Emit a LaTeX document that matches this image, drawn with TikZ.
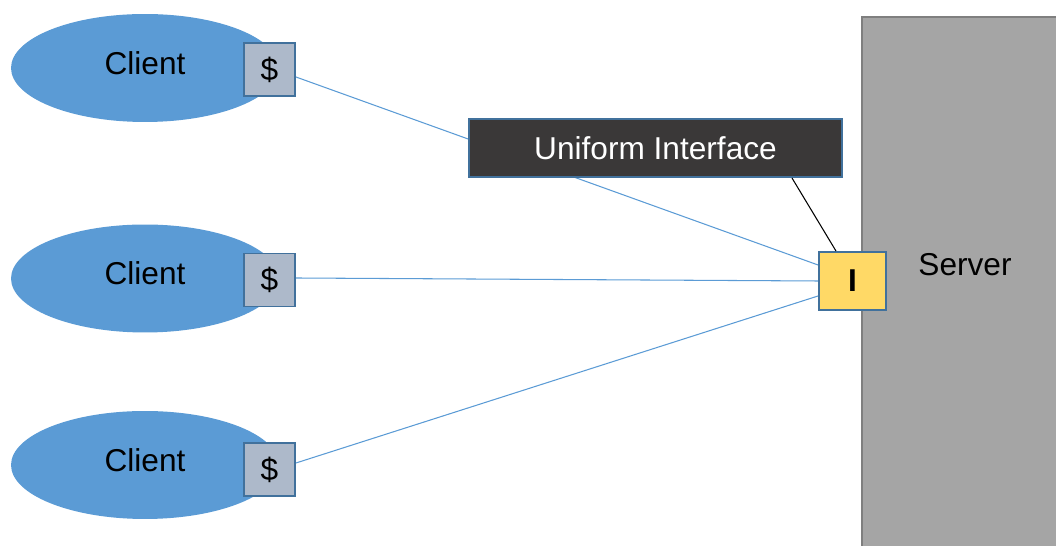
\documentclass[tikz,border=0pt]{standalone}
\usepackage{fontspec}
\setmainfont{Liberation Sans}
\usetikzlibrary{shapes.geometric}
\usetikzlibrary{backgrounds}
\definecolor{clientblue}{HTML}{5B9BD5}
\definecolor{edgeblue}{HTML}{41719C}
\definecolor{cashgray}{HTML}{ADB9CA}
\definecolor{ifcdark}{HTML}{3A3838}
\definecolor{ifcyellow}{HTML}{FFD966}
\definecolor{srvgray}{HTML}{A5A5A5}
\definecolor{srvedge}{HTML}{7F7F7F}

\begin{document}
\begin{tikzpicture}[x=0.02cm, y=-0.02cm,
    every node/.style={font=\fontsize{18}{20}\selectfont},
    client/.style={ellipse, fill=clientblue, minimum width=5.36cm, minimum height=2.16cm, inner sep=0pt},
    cash/.style={draw=edgeblue, line width=1.1pt, fill=cashgray, minimum width=1.02cm, minimum height=1.06cm, inner sep=0pt},
    wire/.style={clientblue, line width=0.6pt}]
    \useasboundingbox (0,0) rectangle (1056,546);
    \clip (0,0) rectangle (1056,546);
    % server
    \draw[srvedge, fill=srvgray, line width=1.4pt] (862,17) rectangle (1090,580);
    \node (srv) at (965,265) {Server};
    % clients with cache
    \foreach \i/\y/\cy in {1/68/69.5, 2/278.5/280, 3/465/469.5}{
        \node[client] (c\i) at (145,\y) {};
        \node (t\i) at ([yshift=0.1cm]c\i.center) {Client};
        \node[cash] (d\i) at (269.5,\cy) {\$};
    }
    \node[draw=edgeblue, line width=1.1pt, fill=ifcdark, text=white, minimum width=7.46cm, minimum height=1.16cm, inner sep=0pt] (ifc) at (655.5,148) {Uniform Interface};
    \node[draw=edgeblue, line width=1.1pt, fill=ifcyellow, minimum width=1.34cm, minimum height=1.16cm, inner sep=0pt, font=\fontsize{18}{20}\selectfont\bfseries] (itf) at (852.5,281) {I};
    \begin{scope}[on background layer]
        \draw[wire] ([yshift=-0.15cm]d1.east) -- ([yshift=0.32cm]itf.west);
        \draw[wire] ([yshift=0.04cm]d2.east) -- (itf.west);
        \draw[wire] ([yshift=0.13cm]d3.east) -- ([yshift=-0.3cm]itf.west);
    \end{scope}
    \draw[black, line width=0.6pt] ([xshift=2.73cm]ifc.south) -- ([xshift=-0.33cm]itf.north);
\end{tikzpicture}
\end{document}
